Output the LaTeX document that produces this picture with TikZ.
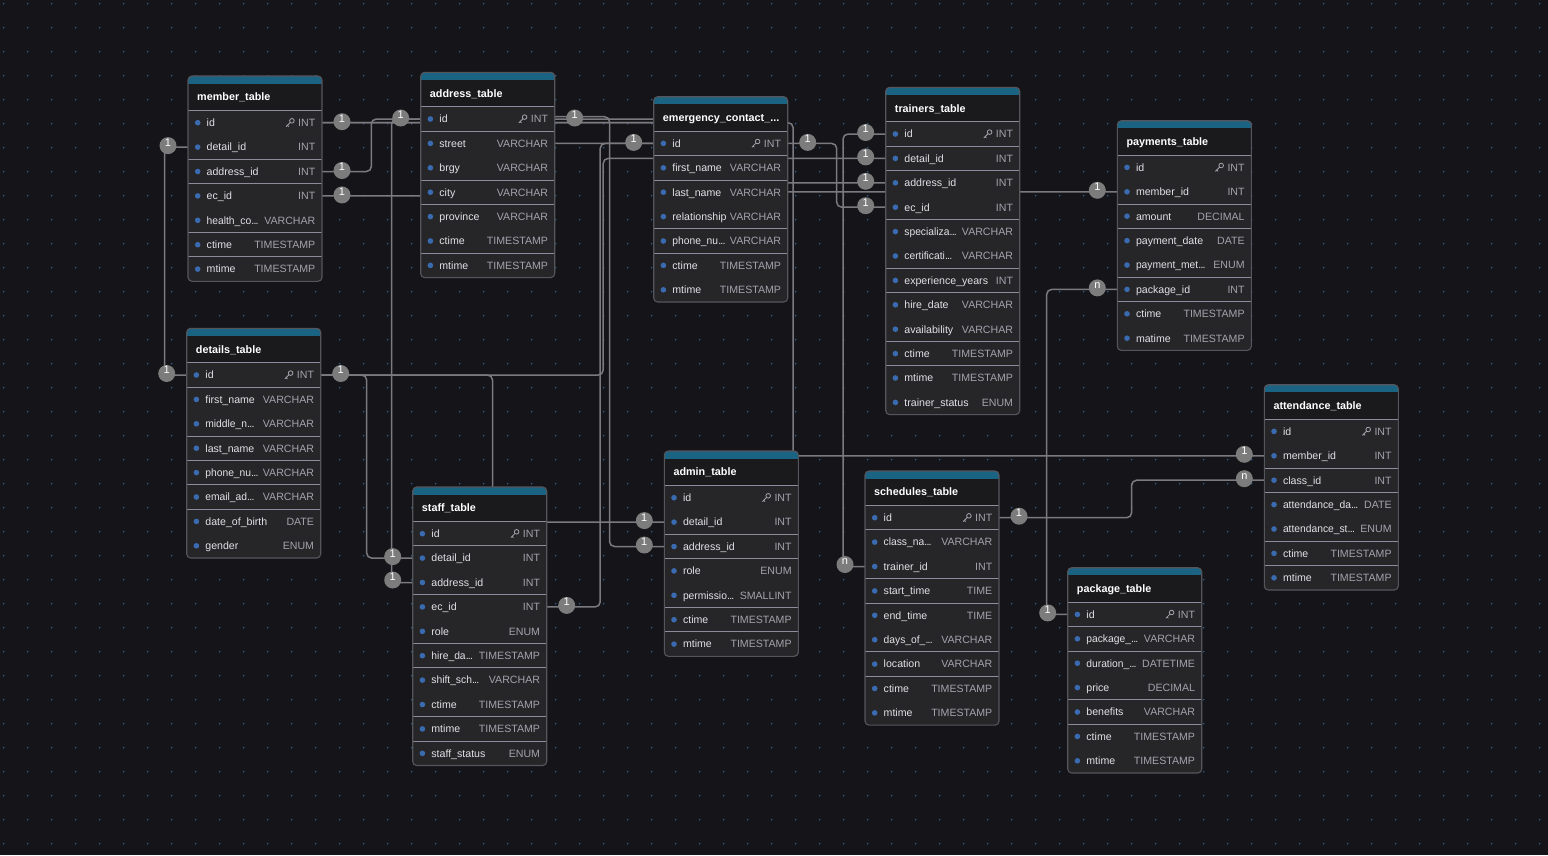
\documentclass[tikz,border=0pt]{standalone}
\usepackage{fontspec}
\setmainfont{Liberation Sans}
\usetikzlibrary{calc}

\pgfdeclarelayer{bg}
\pgfdeclarelayer{edges}
\pgfdeclarelayer{front}
\pgfsetlayers{bg,edges,main,front}

\definecolor{canvas}{HTML}{151519}
\definecolor{griddot}{HTML}{38557F}
\definecolor{rowbg}{HTML}{262629}
\definecolor{headbg}{HTML}{1A1A1D}
\definecolor{accent}{HTML}{1B6383}
\definecolor{framecol}{HTML}{55555C}
\definecolor{sepcol}{HTML}{8C8D9C}
\definecolor{fielddot}{HTML}{3A6BB0}
\definecolor{namecol}{HTML}{E2E2E6}
\definecolor{typecol}{HTML}{A3A3AC}
\definecolor{linkcol}{HTML}{7A7A80}
\definecolor{badgecol}{HTML}{7C7C7C}

\newcommand\rowfont{\fontsize{10.6}{12}\selectfont}
\newcommand\titlefont{\fontsize{10.8}{12}\selectfont\bfseries}
% shortened column name: barely condensed stem followed by tight dots
\newcommand\trunc[1]{\scalebox{0.97}[1]{#1}\kern0.1pt.\kern-0.8pt.\kern-0.8pt.}
\def\tblW{134}
\def\tblHead{34.5}
\def\tblRow{24.4}

\tikzset{
  tablebody/.style={fill=rowbg, rounded corners=4pt, inner sep=0pt, outer sep=0pt, draw=none, minimum width=\tblW pt},
  fieldrow/.style={inner sep=0pt, outer sep=0pt, minimum width=\tblW pt, minimum height=\tblRow pt, anchor=north west},
  fieldname/.style={anchor=base west, inner sep=0pt, text=namecol, font=\rowfont},
  fieldtype/.style={anchor=base east, inner sep=0pt, text=typecol, font=\rowfont},
  tabletitle/.style={anchor=base west, inner sep=0pt, text=white, font=\titlefont},
  rowsep/.style={draw=sepcol, line width=0.9pt},
  tableframe/.style={draw=framecol, line width=1.1pt, rounded corners=4pt},
  conn/.style={draw=linkcol, line width=1.5pt, rounded corners=5pt},
  badge/.style={circle, fill=badgecol, minimum size=17pt, inner sep=0pt, text=white,
    font=\fontsize{11}{11}\selectfont, text height=7.8pt, text depth=7pt},
  keyicon/.style={draw=typecol, line width=0.8pt},
}

% #1 name, #2 x, #3 y, #4 title, #5 row count, #6 rows with a rule above, #7 fields
\newcommand\erTable[7]{%
  \pgfmathsetmacro\tblH{\tblHead+#5*\tblRow}
  \node[tablebody, minimum height=\tblH pt, anchor=north west] (#1) at (#2,#3) {};
  \begin{scope}
    \clip[rounded corners=4pt] (#1.north west) rectangle (#1.south east);
    \fill[accent] (#1.north west) rectangle ($(#1.north east)+(0,7.5)$);
    \fill[headbg] ($(#1.north west)+(0,7.5)$) rectangle ($(#1.north east)+(0,\tblHead)$);
  \end{scope}
  \node[tabletitle] (#1-title) at ($(#1.north west)+(9,24.9)$) {#4};
  \draw[rowsep] ($(#1.north west)+(0,\tblHead)$) -- ($(#1.north east)+(0,\tblHead)$);
  \foreach \s in {#6} {\draw[rowsep] ($(#1.north west)+(0,{\tblHead+\s*\tblRow})$) -- ++(\tblW,0);}
  \foreach \fld/\lbl/\typ [count=\i from 0] in {#7} {
    \node[fieldrow] (#1-\fld) at ($(#1.north west)+(0,{\tblHead+\i*\tblRow})$) {};
    \fill[fielddot] ($(#1-\fld.west)+(9.7,0)$) circle (2.8);
    \node[fieldname] (#1-\fld-name) at ($(#1-\fld.west)+(18.5,3.8)$) {\lbl};
    \node[fieldtype] (#1-\fld-type) at ($(#1-\fld.east)+(-6.5,3.8)$) {\typ};
  }
  % primary key glyph
  \begin{scope}[shift={($(#1-id.east)+(-32,0)$)}]
    \draw[keyicon] (1.9,-1.9) circle (2.3);
    \draw[keyicon] (0.3,-0.3) -- (-3.9,3.9) (-2.6,2.6) -- (-1.3,3.9);
  \end{scope}
  \draw[tableframe] (#1.north west) rectangle (#1.south east);
}

\begin{document}
\begin{tikzpicture}[x=1pt,y=-1pt]
\useasboundingbox (0,0) rectangle (1548,855);

\begin{pgfonlayer}{bg}
  \fill[canvas] (0,0) rectangle (1548,855);
  \foreach \gx in {0,...,64} {\foreach \gy in {0,...,35} {\fill[griddot] ({3.7+24*\gx},{3.7+24*\gy}) circle (0.95);}}
\end{pgfonlayer}

% ---------- tables ----------
\erTable{member}{188}{76}{member\_table}{7}{2,3,5,6}{id/id/INT, detail/detail\_id/INT, address/address\_id/INT, ec/ec\_id/INT, health/\trunc{health\_co}/VARCHAR, ctime/ctime/TIMESTAMP, mtime/mtime/TIMESTAMP}

\erTable{address}{420.7}{72.3}{address\_table}{7}{1,3,4,6}{id/id/INT, street/street/VARCHAR, brgy/brgy/VARCHAR, city/city/VARCHAR, province/province/VARCHAR, ctime/ctime/TIMESTAMP, mtime/mtime/TIMESTAMP}

\erTable{emergency}{653.7}{96.7}{emergency\_contact\_...}{7}{1,2,4,5}{id/id/INT, first/first\_name/VARCHAR, last/last\_name/VARCHAR, rel/relationship/VARCHAR, phone/\trunc{phone\_nu}/VARCHAR, ctime/ctime/TIMESTAMP, mtime/mtime/TIMESTAMP}

\erTable{trainers}{885.7}{87.3}{trainers\_table}{12}{1,2,4,6,7,9,10}{id/id/INT, detail/detail\_id/INT, address/address\_id/INT, ec/ec\_id/INT, spec/\trunc{specializa}/VARCHAR, cert/\trunc{certificati}/VARCHAR, exp/experience\_years/INT, hire/hire\_date/VARCHAR, avail/availability/VARCHAR, ctime/ctime/TIMESTAMP, mtime/mtime/TIMESTAMP, status/trainer\_status/ENUM}

\erTable{payments}{1117.3}{120.7}{payments\_table}{8}{2,3,5,6}{id/id/INT, member/member\_id/INT, amount/amount/DECIMAL, date/payment\_date/DATE, method/\trunc{payment\_met}/ENUM, package/package\_id/INT, ctime/ctime/TIMESTAMP, mtime/matime/TIMESTAMP}

\erTable{details}{186.7}{328.3}{details\_table}{8}{1,3,4,5,6}{id/id/INT, first/first\_name/VARCHAR, middle/\trunc{middle\_n}/VARCHAR, last/last\_name/VARCHAR, phone/\trunc{phone\_nu}/VARCHAR, email/\trunc{email\_ad}/VARCHAR, dob/date\_of\_birth/DATE, gender/gender/ENUM}

\erTable{staff}{412.7}{487}{staff\_table}{10}{1,3,5,6,8,9}{id/id/INT, detail/detail\_id/INT, address/address\_id/INT, ec/ec\_id/INT, role/role/ENUM, hire/\trunc{hire\_da}/TIMESTAMP, shift/\trunc{shift\_sch}/VARCHAR, ctime/ctime/TIMESTAMP, mtime/mtime/TIMESTAMP, status/staff\_status/ENUM}

\erTable{admin}{664.3}{451}{admin\_table}{7}{2,3,5,6}{id/id/INT, detail/detail\_id/INT, address/address\_id/INT, role/role/ENUM, perm/\trunc{permissio}/SMALLINT, ctime/ctime/TIMESTAMP, mtime/mtime/TIMESTAMP}

\erTable{schedules}{865}{471}{schedules\_table}{9}{1,3,4,6,7}{id/id/INT, class/\trunc{class\_na}/VARCHAR, trainer/trainer\_id/INT, start/start\_time/TIME, end/end\_time/TIME, days/\trunc{days\_of\_}/VARCHAR, location/location/VARCHAR, ctime/ctime/TIMESTAMP, mtime/mtime/TIMESTAMP}

\erTable{attendance}{1264.3}{384.7}{attendance\_table}{7}{2,3,5,6}{id/id/INT, member/member\_id/INT, class/class\_id/INT, adate/\trunc{attendance\_da}/DATE, astatus/\trunc{attendance\_st}/ENUM, ctime/ctime/TIMESTAMP, mtime/mtime/TIMESTAMP}

\erTable{package}{1067.7}{567.7}{package\_table}{7}{1,2,4,5}{id/id/INT, name/\trunc{package\_}/VARCHAR, duration/\trunc{duration\_}/DATETIME, price/price/DECIMAL, benefits/benefits/VARCHAR, ctime/ctime/TIMESTAMP, mtime/mtime/TIMESTAMP}

% ---------- relations ----------
\begin{pgfonlayer}{edges}
  % left-hand loops
  \draw[conn] (member-detail.west) -| ($(details-id.west)+(-22,0)$) -- (details-id.west);
  \draw[conn] (address-id.west) -| ($(staff-address.west)+(-21,0)$) -- (staff-address.west);
  \draw[conn] (trainers-id.west) -| ($(schedules-trainer.west)+(-22,0)$) -- (schedules-trainer.west);
  \draw[conn] (payments-package.west) -| ($(package-id.west)+(-21,0)$) -- (package-id.west);
  % right-to-left steps
  \draw[conn] (member-address.east) -| ($(member-address.east)!.5!(address-id.west)$) |- (address-id.west);
  \draw[conn] (member-ec.east) -| ($(member-ec.east)!.5!(emergency-id.west)$) |- (emergency-id.west);
  \draw[conn] (member-id.east) -| ($(member-id.east)!.5!(payments-member.west)$) |- (payments-member.west);
  \draw[conn] (member-id.east) -| ($(member-id.east)!.5!(attendance-member.west)$) |- (attendance-member.west);
  \draw[conn] ($(address-id.east)+(0,-2.3)$) -| ($(address-id.east)!.5!(admin-address.west)$) |- (admin-address.west);
  \draw[conn] (address-id.east) -| ($(address-id.east)!.5!(trainers-address.west)$) |- (trainers-address.west);
  \draw[conn] (staff-ec.east) -| ($(staff-ec.east)!.5!(emergency-id.west)$) |- (emergency-id.west);
  \draw[conn] (emergency-id.east) -| ($(emergency-id.east)!.5!(trainers-ec.west)$) |- (trainers-ec.west);
  \draw[conn] (details-id.east) -| ($(details-id.east)!.5!(staff-detail.west)$) |- (staff-detail.west);
  \draw[conn] (details-id.east) -| ($(details-id.east)!.5!(admin-detail.west)$) |- (admin-detail.west);
  \draw[conn] (details-id.east) -| ($(details-id.east)!.5!(trainers-detail.west)$) |- (trainers-detail.west);
  \draw[conn] (schedules-id.east) -| ($(schedules-id.east)!.5!(attendance-class.west)$) |- (attendance-class.west);
\end{pgfonlayer}

% ---------- cardinality badges ----------
\begin{pgfonlayer}{front}
  \node[badge] (c-member-detail) at ($(member-detail.west)+(-20,-1.5)$) {1};
  \node[badge] (c-details-idl) at ($(details-id.west)+(-20,-1.5)$) {1};
  \node[badge] (c-member-id) at ($(member-id.east)+(20,-1)$) {1};
  \node[badge] (c-member-address) at ($(member-address.east)+(20,-1)$) {1};
  \node[badge] (c-member-ec) at ($(member-ec.east)+(20,-1)$) {1};
  \node[badge] (c-address-idl) at ($(address-id.west)+(-20,-1)$) {1};
  \node[badge] (c-address-idr) at ($(address-id.east)+(20,-1)$) {1};
  \node[badge] (c-emergency-idl) at ($(emergency-id.west)+(-20,-1)$) {1};
  \node[badge] (c-emergency-idr) at ($(emergency-id.east)+(20,-1)$) {1};
  \node[badge] (c-trainers-id) at ($(trainers-id.west)+(-20,-1.5)$) {1};
  \node[badge] (c-trainers-detail) at ($(trainers-detail.west)+(-20,-1.5)$) {1};
  \node[badge] (c-trainers-address) at ($(trainers-address.west)+(-20,-1.5)$) {1};
  \node[badge] (c-trainers-ec) at ($(trainers-ec.west)+(-20,-1.5)$) {1};
  \node[badge] (c-payments-member) at ($(payments-member.west)+(-20,-1.5)$) {1};
  \node[badge] (c-payments-package) at ($(payments-package.west)+(-20,-1.5)$) {n};
  \node[badge] (c-details-idr) at ($(details-id.east)+(20,-1.5)$) {1};
  \node[badge] (c-staff-detail) at ($(staff-detail.west)+(-20,-1.5)$) {1};
  \node[badge] (c-staff-address) at ($(staff-address.west)+(-20,-2.5)$) {1};
  \node[badge] (c-staff-ec) at ($(staff-ec.east)+(20,-1.5)$) {1};
  \node[badge] (c-admin-detail) at ($(admin-detail.west)+(-20,-1.5)$) {1};
  \node[badge] (c-admin-address) at ($(admin-address.west)+(-20,-1.5)$) {1};
  \node[badge] (c-schedules-trainer) at ($(schedules-trainer.west)+(-20,-2)$) {n};
  \node[badge] (c-schedules-id) at ($(schedules-id.east)+(20,-1.5)$) {1};
  \node[badge] (c-attendance-member) at ($(attendance-member.west)+(-20,-1.5)$) {1};
  \node[badge] (c-attendance-class) at ($(attendance-class.west)+(-20,-1.5)$) {n};
  \node[badge] (c-package-id) at ($(package-id.west)+(-20,-1.5)$) {1};
\end{pgfonlayer}
\end{tikzpicture}
\end{document}
